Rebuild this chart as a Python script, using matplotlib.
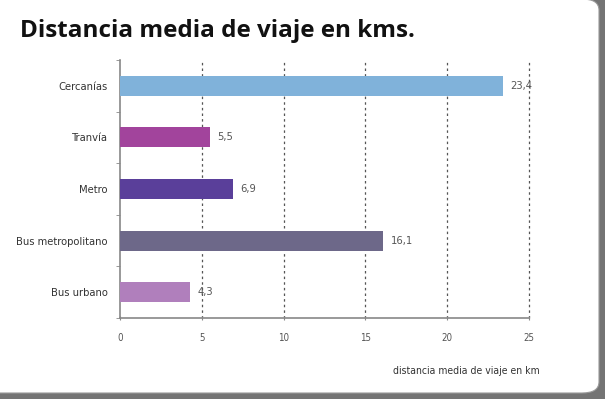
import matplotlib.pyplot as plt
from matplotlib.patches import FancyBboxPatch
from matplotlib.ticker import FixedLocator

categories = ["Bus urbano", "Bus metropolitano", "Metro", "Tranvía", "Cercanías"]
values = [4.3, 16.1, 6.9, 5.5, 23.4]
value_labels = ["4,3", "16,1", "6,9", "5,5", "23,4"]
colors = ["#B07FBC", "#6D6889", "#5A3F9A", "#A2449C", "#80B2DA"]
x_ticks = [0, 5, 10, 15, 20, 25]

narrow = ["DejaVu Sans"]

fig = plt.figure(figsize=(6.05, 3.99), dpi=100)
fig.patch.set_facecolor("#747474")

# panel blanco redondeado
panel = FancyBboxPatch((-0.05, 6 / 399), 0.05 + 599 / 605, 1 - 5 / 399,
                       boxstyle="round,pad=0,rounding_size=0.028",
                       transform=fig.transFigure, facecolor="white",
                       edgecolor="#9A9A9A", linewidth=0.8, zorder=-5,
                       clip_on=False)
fig.patches.append(panel)

ax = fig.add_axes([120 / 605, 1 - 318 / 399, 409 / 605, 258 / 399])
ax.set_facecolor("none")

y = list(range(len(categories)))
ax.barh(y, values, height=0.39, color=colors, zorder=3)

for yi, v, lab in zip(y, values, value_labels):
    ax.text(v + 0.45, yi, lab, va="center", ha="left", fontsize=8,
            color="#555555", family=narrow, stretch="condensed", zorder=4)

ax.set_xlim(0, 25)
ax.set_ylim(-0.5, 4.5)

ax.set_xticks(x_ticks)
ax.set_xticklabels([str(t) for t in x_ticks], fontsize=7, color="#555555",
                   family=narrow, stretch="condensed")
ax.tick_params(axis="x", length=3, direction="inout", color="#888888", pad=9)

ax.yaxis.set_major_locator(FixedLocator(y))
ax.set_yticklabels(categories, fontsize=8, color="#333333", family=narrow,
                   stretch="condensed")
ax.tick_params(axis="y", length=0, pad=9)
ax.yaxis.set_minor_locator(FixedLocator([-0.5, 0.5, 1.5, 2.5, 3.5, 4.5]))
ax.tick_params(axis="y", which="minor", length=3, direction="out",
               color="#888888")

for t in x_ticks[1:]:
    ax.axvline(t, color="#555555", linestyle=(0, (2, 2.5)), linewidth=0.9,
               zorder=1, clip_on=False)

for s in ["top", "right"]:
    ax.spines[s].set_visible(False)
ax.spines["left"].set_color("#888888")
ax.spines["bottom"].set_color("#888888")
ax.spines["left"].set_linewidth(1.2)
ax.spines["bottom"].set_linewidth(1.2)

fig.text(20 / 605, 1 - 31 / 399, "Distancia media de viaje en kms.",
         fontsize=17.5, fontweight="bold", family=["Open Sans", "DejaVu Sans"],
         color="#111111", va="center", ha="left")

fig.text(540 / 605, 1 - 371 / 399, "distancia media de viaje en km",
         fontsize=7.5, color="#333333", family=narrow, stretch="condensed",
         ha="right", va="center")

fig.savefig("out.png", dpi=100)
